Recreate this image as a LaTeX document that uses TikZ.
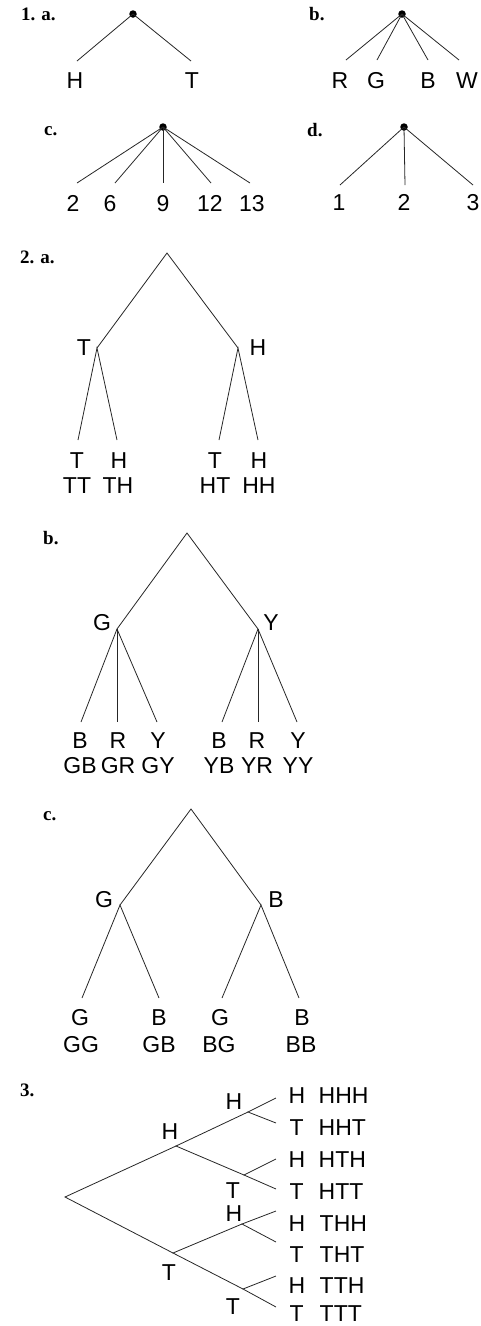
\documentclass[tikz,border=0pt]{standalone}
\usepackage{fontspec}
\newfontfamily\lblfont{Liberation Sans}
\newfontfamily\tagfont{Liberation Serif}
\tikzset{
  lbl/.style={inner sep=0pt, anchor=base, font=\lblfont\fontsize{23}{27}\selectfont},
  lblw/.style={lbl, anchor=base west},
  tag/.style={inner sep=0pt, anchor=base west, font=\tagfont\fontsize{19}{22}\selectfont\bfseries},
  edge/.style={line width=0.8pt, draw=black!85},
  dotn/.style={circle, fill=black, inner sep=0pt, minimum size=7.5pt},
}
\begin{document}
\begin{tikzpicture}[x=1pt,y=-1pt]
\useasboundingbox (0,0) rectangle (480,1326);

% ---------- 1 a ----------
\node[tag] (t1a) at (21,20) {1.\hspace{6pt}a.};
\node[dotn] (a1) at (133,14) {};
\coordinate (a1e1) at (77,61);
\coordinate (a1e2) at (191,61);
\draw[edge] (a1.center) -- (a1e1);
\draw[edge] (a1.center) -- (a1e2);
\node[lbl] (a1l1) at (75,88) {H};
\node[lbl] (a1l2) at (192,88) {T};

% ---------- 1 b ----------
\node[tag] (t1b) at (309,20) {b.};
\node[dotn] (b1) at (402,14) {};
\coordinate (b1e1) at (346,60);
\coordinate (b1e2) at (377,60);
\coordinate (b1e3) at (428,60);
\coordinate (b1e4) at (459,60);
\foreach \i in {1,...,4} \draw[edge] (b1.center) -- (b1e\i);
\node[lbl] (b1l1) at (340,88) {R};
\node[lbl] (b1l2) at (376,88) {G};
\node[lbl] (b1l3) at (428,88) {B};
\node[lbl] (b1l4) at (467,88) {W};

% ---------- 1 c ----------
\node[tag] (t1c) at (44,135) {c.};
\node[dotn] (c1) at (163,127) {};
\coordinate (c1e1) at (77,183);
\coordinate (c1e2) at (115,183);
\coordinate (c1e3) at (163,183);
\coordinate (c1e4) at (211,183);
\coordinate (c1e5) at (250,183);
\foreach \i in {1,...,5} \draw[edge] (c1.center) -- (c1e\i);
\node[lbl] (c1l1) at (73,211) {2};
\node[lbl] (c1l2) at (110,211) {6};
\node[lbl] (c1l3) at (163,211) {9};
\node[lbl] (c1l4) at (210,211) {12};
\node[lbl] (c1l5) at (252,211) {13};

% ---------- 1 d ----------
\node[tag] (t1d) at (307,136) {d.};
\node[dotn] (d1) at (404,127) {};
\coordinate (d1e1) at (340,185);
\coordinate (d1e2) at (405,185);
\coordinate (d1e3) at (473,185);
\foreach \i in {1,...,3} \draw[edge] (d1.center) -- (d1e\i);
\node[lbl] (d1l1) at (339,210) {1};
\node[lbl] (d1l2) at (404,210) {2};
\node[lbl] (d1l3) at (473,210) {3};

% ---------- 2 a ----------
\node[tag] (t2a) at (20,263) {2.\hspace{6pt}a.};
\coordinate (r2a) at (167,253);
\coordinate (n2aT) at (97,348);
\coordinate (n2aH) at (238,348);
\coordinate (e2a1) at (78,440);
\coordinate (e2a2) at (117,440);
\coordinate (e2a3) at (219,440);
\coordinate (e2a4) at (258,440);
\draw[edge] (n2aT) -- (r2a) -- (n2aH);
\draw[edge] (e2a1) -- (n2aT) -- (e2a2);
\draw[edge] (e2a3) -- (n2aH) -- (e2a4);
\node[lbl] (l2aT) at (84,355) {T};
\node[lbl] (l2aH) at (258,355) {H};
\node[lbl] (l2a1) at (77,468) {T};
\node[lbl] (l2a2) at (119,468) {H};
\node[lbl] (l2a3) at (215,468) {T};
\node[lbl] (l2a4) at (259,468) {H};
\node[lbl] (o2a1) at (77,493) {TT};
\node[lbl] (o2a2) at (118,493) {TH};
\node[lbl] (o2a3) at (215,493) {HT};
\node[lbl] (o2a4) at (259,493) {HH};

% ---------- 2 b ----------
\node[tag] (t2b) at (43,544) {b.};
\coordinate (r2b) at (187,533);
\coordinate (n2bG) at (117,629);
\coordinate (n2bY) at (258,629);
\coordinate (e2b1) at (81,722);
\coordinate (e2b2) at (117,722);
\coordinate (e2b3) at (157,722);
\coordinate (e2b4) at (222,722);
\coordinate (e2b5) at (258,722);
\coordinate (e2b6) at (297,722);
\draw[edge] (n2bG) -- (r2b) -- (n2bY);
\draw[edge] (n2bG) -- (e2b1);
\draw[edge] (n2bG) -- (e2b2);
\draw[edge] (n2bG) -- (e2b3);
\draw[edge] (n2bY) -- (e2b4);
\draw[edge] (n2bY) -- (e2b5);
\draw[edge] (n2bY) -- (e2b6);
\node[lbl] (l2bG) at (102,630) {G};
\node[lbl] (l2bY) at (271,630) {Y};
\node[lbl] (l2b1) at (80,748) {B};
\node[lbl] (l2b2) at (118,748) {R};
\node[lbl] (l2b3) at (158,748) {Y};
\node[lbl] (l2b4) at (219,748) {B};
\node[lbl] (l2b5) at (257,748) {R};
\node[lbl] (l2b6) at (298,748) {Y};
\node[lbl] (o2b1) at (80,773) {GB};
\node[lbl] (o2b2) at (118,773) {GR};
\node[lbl] (o2b3) at (158,773) {GY};
\node[lbl] (o2b4) at (219,773) {YB};
\node[lbl] (o2b5) at (257,773) {YR};
\node[lbl] (o2b6) at (298,773) {YY};

% ---------- 2 c ----------
\node[tag] (t2c) at (43,820) {c.};
\coordinate (r2c) at (191,809);
\coordinate (n2cG) at (120,905);
\coordinate (n2cB) at (261,905);
\coordinate (e2c1) at (82,998);
\coordinate (e2c2) at (159,998);
\coordinate (e2c3) at (222,998);
\coordinate (e2c4) at (299,998);
\draw[edge] (n2cG) -- (r2c) -- (n2cB);
\draw[edge] (e2c1) -- (n2cG) -- (e2c2);
\draw[edge] (e2c3) -- (n2cB) -- (e2c4);
\node[lbl] (l2cG) at (104,907) {G};
\node[lbl] (l2cB) at (276,907) {B};
\node[lbl] (l2c1) at (80,1025) {G};
\node[lbl] (l2c2) at (159,1025) {B};
\node[lbl] (l2c3) at (220,1025) {G};
\node[lbl] (l2c4) at (302,1025) {B};
\node[lbl] (o2c1) at (81,1052) {GG};
\node[lbl] (o2c2) at (159,1052) {GB};
\node[lbl] (o2c3) at (219,1052) {BG};
\node[lbl] (o2c4) at (301,1052) {BB};

% ---------- 3 ----------
\node[tag] (t3) at (20,1096) {3.};
\coordinate (r3) at (65,1197);
\coordinate (n3H) at (176,1146);
\coordinate (n3T) at (173,1253);
\coordinate (n3HH) at (248,1112);
\coordinate (n3HT) at (244,1175);
\coordinate (n3TH) at (242,1224);
\coordinate (n3TT) at (243,1289);
\coordinate (e31) at (276,1098);
\coordinate (e32) at (276,1123);
\coordinate (e33) at (276,1159);
\coordinate (e34) at (276,1189);
\coordinate (e35) at (276,1211);
\coordinate (e36) at (276,1242);
\coordinate (e37) at (276,1276);
\coordinate (e38) at (276,1307);
\draw[edge] (n3H) -- (r3) -- (n3T);
\draw[edge] (n3HH) -- (n3H) -- (n3HT);
\draw[edge] (n3TH) -- (n3T) -- (n3TT);
\draw[edge] (e31) -- (n3HH) -- (e32);
\draw[edge] (e33) -- (n3HT) -- (e34);
\draw[edge] (e35) -- (n3TH) -- (e36);
\draw[edge] (e37) -- (n3TT) -- (e38);
\node[lbl] (l3H) at (170,1139) {H};
\node[lbl] (l3T) at (169,1280) {T};
\node[lbl] (l3HH) at (234,1109) {H};
\node[lbl] (l3HT) at (233,1198) {T};
\node[lbl] (l3TH) at (234,1221) {H};
\node[lbl] (l3TT) at (233,1314) {T};
\node[lblw] (f31) at (288.5,1103) {H};
\node[lblw] (f32) at (289.5,1135) {T};
\node[lblw] (f33) at (288.5,1167) {H};
\node[lblw] (f34) at (289.5,1199) {T};
\node[lblw] (f35) at (288.5,1231) {H};
\node[lblw] (f36) at (289.5,1262) {T};
\node[lblw] (f37) at (288.5,1293) {H};
\node[lblw] (f38) at (289.5,1321) {T};
\node[lblw] (o31) at (318.5,1103) {HHH};
\node[lblw] (o32) at (318.5,1135) {HHT};
\node[lblw] (o33) at (318.5,1167) {HTH};
\node[lblw] (o34) at (318.5,1199) {HTT};
\node[lblw] (o35) at (319.5,1231) {THH};
\node[lblw] (o36) at (319.5,1262) {THT};
\node[lblw] (o37) at (319.5,1293) {TTH};
\node[lblw] (o38) at (319.5,1321) {TTT};
\end{tikzpicture}
\end{document}
